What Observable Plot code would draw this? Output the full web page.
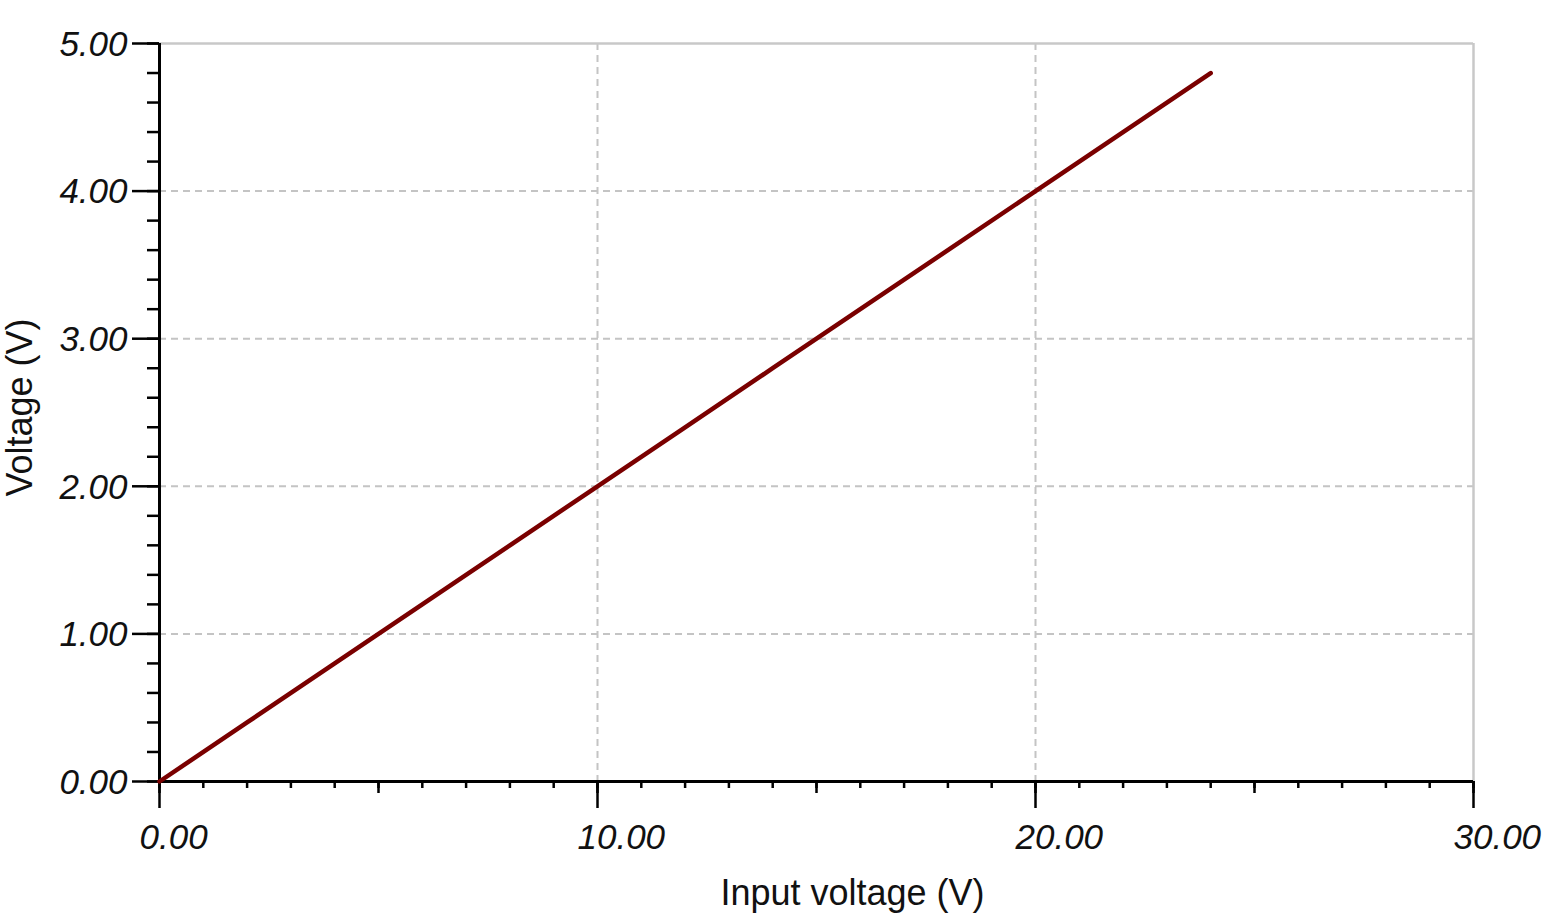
<!DOCTYPE html>
<html>
<head>
<meta charset="utf-8">
<script src="https://cdn.jsdelivr.net/npm/d3@7"></script>
<script src="https://cdn.jsdelivr.net/npm/@observablehq/plot@0.6"></script>
<style>
  html, body { margin: 0; padding: 0; background: #ffffff; }
  #chart svg { display: block; }
</style>
</head>
<body>
<div id="chart"></div>
<script>
// Data
const inputV  = [0, 2, 4, 6, 8, 10, 12, 14, 16, 18, 20, 22, 24];
const outputV = [0, 0.40, 0.80, 1.20, 1.60, 2.00, 2.40, 2.80, 3.20, 3.60, 4.00, 4.40, 4.80];

// Tick labels
const xTickValues = [0, 10, 20, 30];
const yTickValues = [0, 1, 2, 3, 4, 5];
const xTitle = "Input voltage (V)";
const yTitle = "Voltage (V)";

const data = inputV.map((x, i) => ({x, y: outputV[i]}));

const xMinor = d3.range(0, 31, 1);
const xMedium = d3.range(0, 31, 5);
const yMinor = d3.range(0, 5.001, 0.2).map(v => +v.toFixed(2));

const font = "'Liberation Sans', Arial, sans-serif";
const tickStyle = {fill: "none", label: null, stroke: "#000", strokeWidth: 2.5};

const chart = Plot.plot({
  width: 1542,
  height: 915,
  marginLeft: 159,
  marginRight: 69,
  marginTop: 43,
  marginBottom: 134,
  style: {background: "#ffffff", fontFamily: font},
  x: {domain: [0, 30]},
  y: {domain: [0, 5]},
  marks: [
    // dashed grid
    Plot.gridX([10, 20], {stroke: "#c4c4c4", strokeOpacity: 1, strokeWidth: 2, strokeDasharray: "7,5"}),
    Plot.gridY([1, 2, 3, 4], {stroke: "#c4c4c4", strokeOpacity: 1, strokeWidth: 2, strokeDasharray: "7,5"}),
    // frame top/right
    Plot.ruleY([5], {stroke: "#c8c8c8", strokeWidth: 2.5}),
    Plot.ruleX([30], {stroke: "#c8c8c8", strokeWidth: 2.5}),
    // ticks (no labels)
    Plot.axisX(xMinor, {...tickStyle, tickSize: 7}),
    Plot.axisX(xMedium, {...tickStyle, tickSize: 12}),
    Plot.axisX(xTickValues, {...tickStyle, tickSize: 27}),
    Plot.axisY(yMinor, {...tickStyle, tickSize: 12}),
    Plot.axisY(yTickValues, {...tickStyle, tickSize: 27}),
    // axis lines
    Plot.ruleX([0], {stroke: "#000", strokeWidth: 3}),
    Plot.ruleY([0], {stroke: "#000", strokeWidth: 3}),
    // tick labels
    Plot.text(xTickValues, {x: d => d, frameAnchor: "bottom", lineAnchor: "middle", text: d => d.toFixed(2), textAnchor: "start", dx: -20, dy: 56, fontSize: 35, fontStyle: "italic", fill: "#111", fontFamily: font}),
    Plot.text(yTickValues, {y: d => d, frameAnchor: "left", lineAnchor: "middle", text: d => d.toFixed(2), textAnchor: "end", dx: -32, dy: 1, fontSize: 35, fontStyle: "italic", fill: "#111", fontFamily: font}),
    // axis titles
    Plot.text([xTitle], {frameAnchor: "bottom", lineAnchor: "middle", textAnchor: "middle", text: d => d, dx: 36, dy: 112, fontSize: 36, fill: "#111", fontFamily: font}),
    Plot.text([yTitle], {frameAnchor: "left", lineAnchor: "middle", textAnchor: "middle", text: d => d, rotate: -90, dx: -139, dy: -5, fontSize: 36, fill: "#111", fontFamily: font}),
    // data line
    Plot.line(data, {x: "x", y: "y", stroke: "#7a0000", strokeWidth: 4.5, strokeLinecap: "round"})
  ]
});

document.getElementById("chart").appendChild(chart);
</script>
</body>
</html>
